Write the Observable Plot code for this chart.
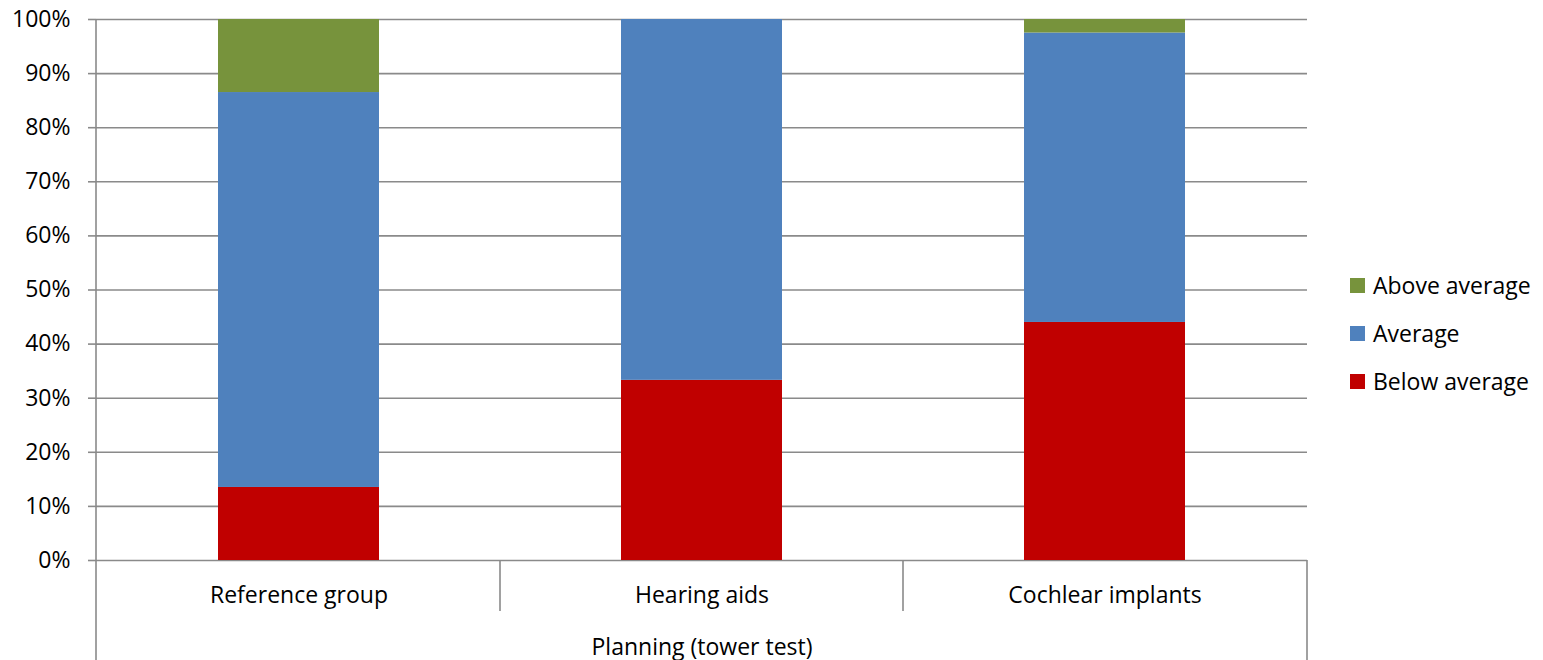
<!DOCTYPE html>
<html>
<head>
<meta charset="utf-8">
<script src="https://cdn.jsdelivr.net/npm/d3@7"></script>
<script src="https://cdn.jsdelivr.net/npm/@observablehq/plot@0.6"></script>
<style>
  html, body { margin: 0; padding: 0; background: #fff; }
  #wrap { position: relative; width: 1543px; height: 660px; font-family: "Open Sans", sans-serif; }
  #legend { position: absolute; left: 1350px; top: 261px; font-size: 23px; color: #000; }
  #legend .row { display: flex; align-items: center; height: 48px; }
  #legend .sw { width: 15px; height: 15px; margin-right: 8px; }
</style>
</head>
<body>
<div id="wrap"></div>
<script>
// Planning (tower test): share of each group scoring below, at or above average
const groups = ["Reference group", "Hearing aids", "Cochlear implants"];
const series = ["Below average", "Average", "Above average"];
const belowAverage = [0.135, 0.333, 0.44];
const average = [0.73, 0.667, 0.535];
const aboveAverage = [0.135, 0, 0.025];
const seriesColors = ["#C00000", "#4F81BD", "#77933C"];
const yTicks = [0, 0.1, 0.2, 0.3, 0.4, 0.5, 0.6, 0.7, 0.8, 0.9, 1];
const groupLabel = "Planning (tower test)";

const rows = [];
groups.forEach((g, i) => {
  rows.push({group: g, series: series[0], value: belowAverage[i]});
  rows.push({group: g, series: series[1], value: average[i]});
  rows.push({group: g, series: series[2], value: aboveAverage[i]});
});

const gray = "#8a8a8a";
const font = "Open Sans";
const fontSize = 23;

const chart = Plot.plot({
  width: 1543,
  height: 660,
  marginLeft: 96,
  marginRight: 236,
  marginTop: 19,
  marginBottom: 100,
  style: {fontFamily: font, fontSize: `${fontSize}px`, color: "#000", background: "#fff"},
  x: {domain: groups, paddingInner: 0.6, paddingOuter: 0.3, axis: null},
  y: {domain: [0, 1], axis: null},
  color: {domain: series, range: seriesColors},
  marks: [
    Plot.gridY(yTicks, {stroke: gray, strokeOpacity: 1, strokeWidth: 1.6}),
    Plot.axisY(yTicks, {
      tickFormat: d3.format(".0%"),
      tickSize: 8,
      tickPadding: 18,
      stroke: gray,
      strokeWidth: 1.6,
      fill: "#000",
      fontSize,
      label: null
    }),
    Plot.barY(rows, {
      x: "group",
      y: "value",
      fill: "series",
      order: series
    }),
    Plot.text(groups, {
      x: d => d,
      frameAnchor: "bottom",
      dy: 42,
      fontSize,
      fill: "#000"
    }),
    Plot.text([groupLabel], {
      frameAnchor: "bottom",
      dy: 94,
      fontSize,
      fill: "#000"
    })
  ]
});

// Category frame lines below the plot area, positioned from the x and y scales
const xScale = chart.scale("x");
const yScale = chart.scale("y");
const bandStep = xScale.step ?? (xScale.range[1] - xScale.range[0]) / groups.length;
const frameLeft = xScale.range[0];
const frameRight = xScale.range[1];
const frameBottom = yScale.apply(0);
const frameTop = yScale.apply(1);
const frameLines = d3.select(chart).append("g").attr("stroke", gray).attr("stroke-width", 1.6);
frameLines.append("line").attr("x1", frameLeft).attr("x2", frameLeft).attr("y1", frameTop).attr("y2", 660);
frameLines.append("line").attr("x1", frameRight).attr("x2", frameRight).attr("y1", frameBottom).attr("y2", 660);
groups.slice(0, -1).forEach((c) => {
  const x = xScale.apply(c) + xScale.bandwidth / 2 + bandStep / 2;
  frameLines.append("line").attr("x1", x).attr("x2", x).attr("y1", frameBottom).attr("y2", frameBottom + 51);
});

const wrap = document.getElementById("wrap");
wrap.appendChild(chart);

// Legend, top series first
const legend = document.createElement("div");
legend.id = "legend";
const colorScale = chart.scale("color");
[...series].reverse().forEach((s) => {
  const row = document.createElement("div");
  row.className = "row";
  const sw = document.createElement("span");
  sw.className = "sw";
  sw.style.background = colorScale.apply(s);
  const label = document.createElement("span");
  label.textContent = s;
  row.appendChild(sw);
  row.appendChild(label);
  legend.appendChild(row);
});
wrap.appendChild(legend);
</script>
</body>
</html>
